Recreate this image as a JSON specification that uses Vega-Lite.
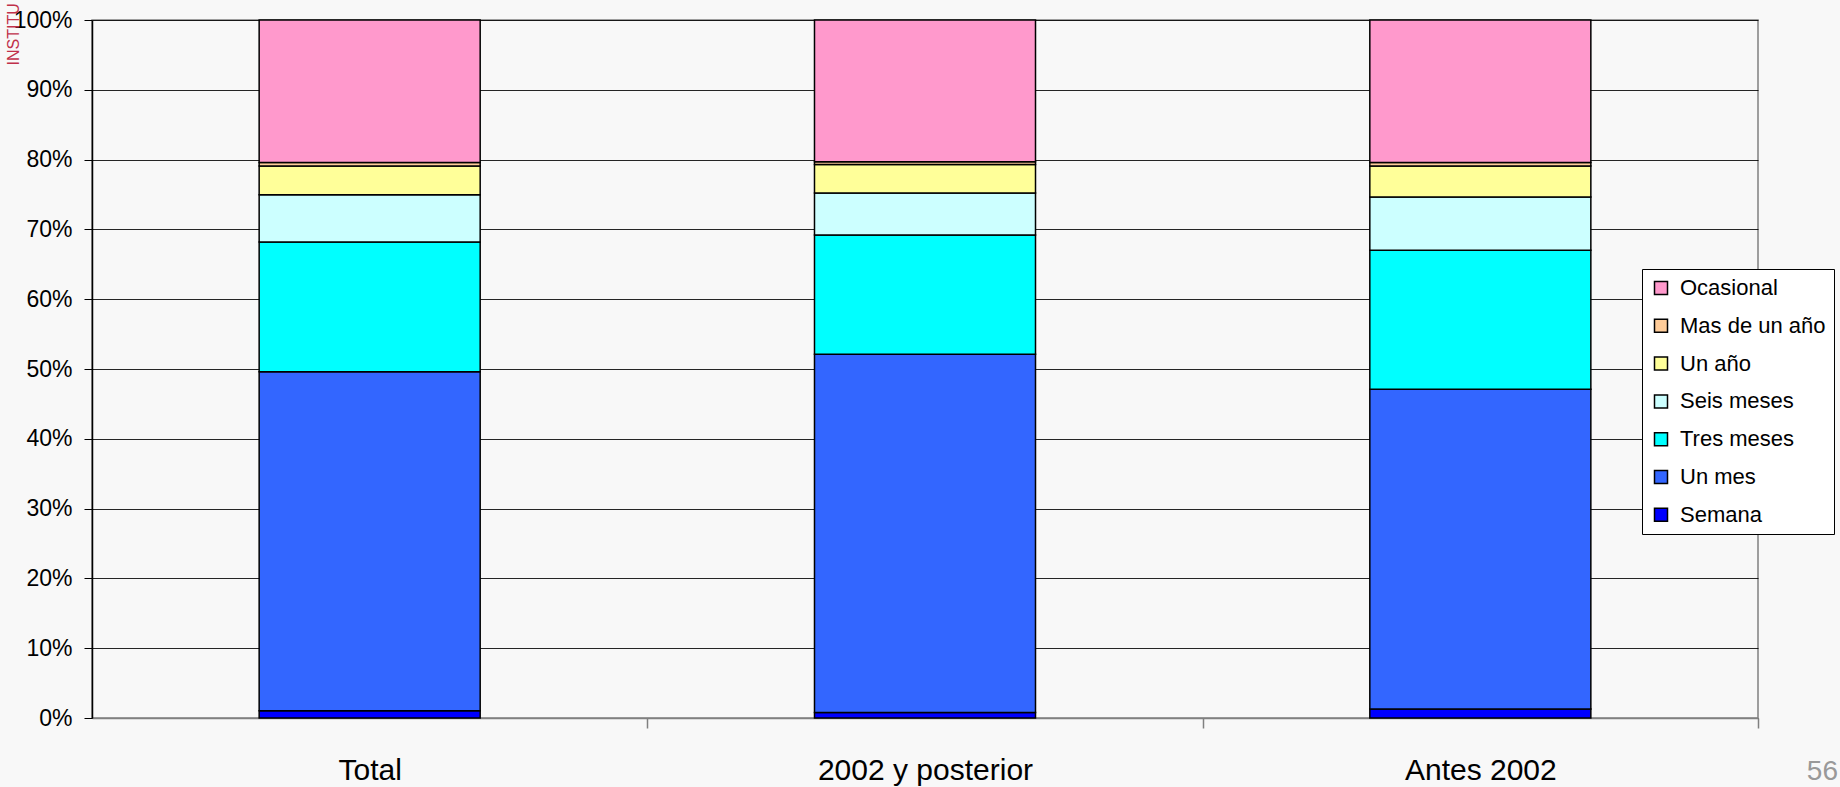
{
  "$schema": "https://vega.github.io/schema/vega-lite/v6.json",
  "autosize": {"type": "none"},
  "padding": {"left": 92, "top": 20, "right": 82, "bottom": 69},
  "width": 1666,
  "height": 698,
  "background": "#F8F8F8",
  "config": {
    "font": "Liberation Sans",
    "view": {"stroke": "#808080", "strokeWidth": 1.5, "fill": "#F8F8F8"}
  },
  "title": {
    "text": "56",
    "orient": "bottom",
    "anchor": "end",
    "frame": "group",
    "dx": 80,
    "offset": -27,
    "fontSize": 28,
    "fontWeight": "normal",
    "color": "#999999",
    "font": "Liberation Sans"
  },
  "data": {
    "values": [
      {"cat": "Total", "serie": "Semana", "rank": 1, "v": 1.05},
      {"cat": "Total", "serie": "Un mes", "rank": 2, "v": 48.55},
      {"cat": "Total", "serie": "Tres meses", "rank": 3, "v": 18.6},
      {"cat": "Total", "serie": "Seis meses", "rank": 4, "v": 6.75},
      {"cat": "Total", "serie": "Un año", "rank": 5, "v": 4.15},
      {"cat": "Total", "serie": "Mas de un año", "rank": 6, "v": 0.5},
      {"cat": "Total", "serie": "Ocasional", "rank": 7, "v": 20.4},
      {"cat": "2002 y posterior", "serie": "Semana", "rank": 1, "v": 0.8},
      {"cat": "2002 y posterior", "serie": "Un mes", "rank": 2, "v": 51.3},
      {"cat": "2002 y posterior", "serie": "Tres meses", "rank": 3, "v": 17.1},
      {"cat": "2002 y posterior", "serie": "Seis meses", "rank": 4, "v": 6.0},
      {"cat": "2002 y posterior", "serie": "Un año", "rank": 5, "v": 4.1},
      {"cat": "2002 y posterior", "serie": "Mas de un año", "rank": 6, "v": 0.4},
      {"cat": "2002 y posterior", "serie": "Ocasional", "rank": 7, "v": 20.3},
      {"cat": "Antes 2002", "serie": "Semana", "rank": 1, "v": 1.3},
      {"cat": "Antes 2002", "serie": "Un mes", "rank": 2, "v": 45.8},
      {"cat": "Antes 2002", "serie": "Tres meses", "rank": 3, "v": 19.9},
      {"cat": "Antes 2002", "serie": "Seis meses", "rank": 4, "v": 7.65},
      {"cat": "Antes 2002", "serie": "Un año", "rank": 5, "v": 4.45},
      {"cat": "Antes 2002", "serie": "Mas de un año", "rank": 6, "v": 0.5},
      {"cat": "Antes 2002", "serie": "Ocasional", "rank": 7, "v": 20.4}
    ]
  },
  "mark": {"type": "bar", "stroke": "#000000", "strokeWidth": 1.5},
  "encoding": {
    "x": {
      "field": "cat",
      "type": "nominal",
      "sort": ["Total", "2002 y posterior", "Antes 2002"],
      "scale": {"paddingInner": 0.602, "paddingOuter": 0.301},
      "axis": {
        "title": null,
        "labelAngle": 0,
        "labelFontSize": 30,
        "labelColor": "#000000",
        "labelPadding": 27,
        "labelLimit": 500,
        "bandPosition": 1,
        "tickOffset": 167,
        "labelOffset": -167,
        "tickSize": 10,
        "tickColor": "#808080",
        "tickWidth": 1.5,
        "domainColor": "#808080",
        "domainWidth": 1.5,
        "grid": false
      }
    },
    "y": {
      "field": "v",
      "type": "quantitative",
      "stack": "zero",
      "scale": {"domain": [0, 100], "nice": false},
      "axis": {
        "title": "INSTITU",
        "titleColor": "#C0304A",
        "titleFont": "Liberation Sans",
        "titleFontSize": 16,
        "titleFontWeight": "normal",
        "titleAngle": 270,
        "titleAlign": "left",
        "titleBaseline": "middle",
        "titleX": -79,
        "titleY": 45,
        "values": [0, 10, 20, 30, 40, 50, 60, 70, 80, 90, 100],
        "labelExpr": "datum.value + '%'",
        "labelFontSize": 23,
        "labelColor": "#000000",
        "labelPadding": 12,
        "tickSize": 8,
        "tickColor": "#000000",
        "domainColor": "#000000",
        "domainWidth": 1.5,
        "grid": true,
        "gridColor": "#000000",
        "gridWidth": 1,
        "gridOpacity": 0.85
      }
    },
    "color": {
      "field": "serie",
      "type": "nominal",
      "scale": {
        "domain": ["Ocasional", "Mas de un año", "Un año", "Seis meses", "Tres meses", "Un mes", "Semana"],
        "range": ["#FF99CC", "#FFCC99", "#FFFF99", "#CCFFFF", "#00FFFF", "#3366FF", "#0000FF"]
      },
      "legend": {
        "title": null,
        "orient": "none",
        "legendX": 1550,
        "legendY": 249,
        "padding": 8,
        "fillColor": "#FFFFFF",
        "strokeColor": "#000000",
        "symbolType": "square",
        "symbolSize": 169,
        "symbolStrokeColor": "#000000",
        "symbolStrokeWidth": 1.5,
        "symbolOpacity": 1,
        "labelFontSize": 22,
        "labelColor": "#000000",
        "labelOffset": 8,
        "rowPadding": 15.8,
        "labelLimit": 300
      }
    },
    "order": {"field": "rank", "type": "quantitative", "sort": "ascending"}
  }
}
